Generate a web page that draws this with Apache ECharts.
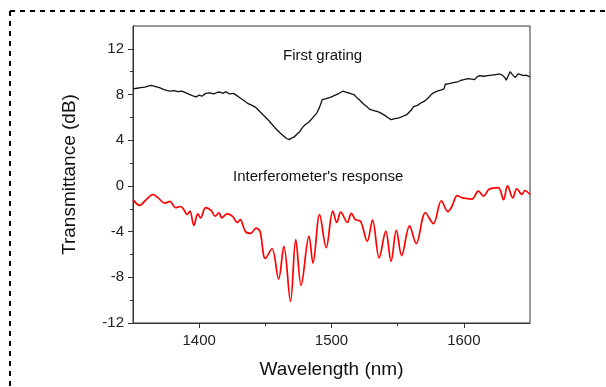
<!DOCTYPE html>
<html>
<head>
<meta charset="UTF-8">
<title>Transmittance</title>
<script src="https://cdn.jsdelivr.net/npm/echarts@6/dist/echarts.min.js"></script>
<style>
  html, body { margin: 0; padding: 0; background: #fff; }
  #chart { width: 606px; height: 387px; }
</style>
</head>
<body>
<div id="chart"></div>
<script type="text/javascript">
// first grating (black)
var gratingWl = [1350,1353,1356,1359,1362,1364,1367,1370,1373,1376,1378,1381,1384,1387,1390,1393,1396,1398,1400,1402,
  1405,1408,1411,1414,1416,1418,1420,1423,1426,1428,1431,1434,1437,1440,1443,1446,1449,1452,1455,1458,
  1461,1464,1466,1468,1470,1472,1474,1476,1478,1480,1483,1486,1489,1491,1493,1496,1499,1502,1505,1507,
  1509,1511,1513,1515,1517,1519,1521,1524,1527,1529,1532,1535,1537,1540,1543,1545,1548,1551,1554,1557,
  1560,1562,1565,1568,1570,1573,1575,1577,1580,1583,1585,1586,1589,1592,1595,1598,1600,1603,1606,1608,
  1610,1612,1615,1618,1621,1624,1627,1629,1631,1632,1634,1635,1637,1639,1641,1643,1645,1647,1650];
var gratingDb = [8.5,8.55,8.6,8.65,8.75,8.8,8.7,8.6,8.45,8.35,8.3,8.35,8.25,8.3,8.15,8.0,7.85,7.8,7.95,7.85,
  8.1,8.15,8.05,8.2,8.2,8.1,8.25,8.05,8.1,7.95,7.7,7.45,7.2,7.05,6.85,6.5,6.15,5.8,5.4,5.0,
  4.65,4.35,4.15,4.05,4.2,4.3,4.55,4.75,5.1,5.35,5.6,6.0,6.4,6.9,7.55,7.65,7.75,7.9,8.05,8.2,
  8.3,8.2,8.15,8.05,8.0,7.75,7.55,7.2,6.9,6.7,6.6,6.5,6.4,6.2,5.95,5.8,5.9,5.95,6.1,6.25,
  6.6,6.95,7.05,7.3,7.4,7.7,7.95,8.15,8.3,8.4,8.5,8.9,8.95,9.05,9.1,9.25,9.3,9.4,9.35,9.3,
  9.55,9.65,9.6,9.65,9.7,9.75,9.8,9.7,9.5,9.25,9.75,10.0,9.7,9.5,9.8,9.75,9.65,9.7,9.55];

// interferometer's response (red)
var interfWl = [1350,1355,1360,1365,1369,1374,1378,1382,1386,1388,1391,1393,1396,1399,1401,1405,1409,1412,1415,1417,
  1421,1425,1429,1431,1435,1439,1443,1446,1450,1455,1460,1464,1469,1473,1477,1483,1486,1491,1496,1501,
  1504,1507,1512,1515,1518,1522,1527,1531,1536,1541,1545,1549,1553,1559,1564,1571,1577,1583,1588,1591,
  1595,1599,1606,1611,1615,1619,1626,1630,1633,1637,1640,1644,1646,1650];
var interfDb = [-1.2,-1.7,-1.2,-0.75,-1.05,-1.5,-1.35,-1.9,-1.8,-2.0,-2.5,-2.2,-3.45,-2.45,-2.8,-1.9,-2.15,-2.65,-2.35,-2.8,
  -2.45,-2.65,-3.2,-2.95,-4.0,-4.15,-3.7,-4.0,-6.35,-5.5,-8.15,-5.3,-10.1,-4.7,-8.7,-4.4,-6.75,-2.5,-5.4,-2.2,
  -3.2,-2.3,-3.2,-2.4,-2.95,-3.1,-4.85,-3.0,-6.3,-3.95,-6.6,-3.9,-6.1,-3.5,-5.05,-2.35,-3.3,-1.3,-2.25,-1.8,
  -0.85,-1.05,-1.15,-0.45,-0.9,-0.3,-0.15,-1.2,0.0,-1.05,-0.25,-0.75,-0.4,-0.75];

var xMajor = [1400, 1500, 1600];
var xMinor = [1450, 1550];
var yMajor = [-12, -8, -4, 0, 4, 8, 12];
var yMinor = [-10, -6, -2, 2, 6, 10];

function pairs(xs, ys) {
    var out = [];
    for (var i = 0; i < xs.length; i++) out.push([xs[i], ys[i]]);
    return out;
}

var axisColor = '#333';
var font = 'Liberation Sans, Arial, sans-serif';

var myChart = echarts.init(document.getElementById('chart'));
var option = {
    backgroundColor: '#fff',
    animation: false,
    textStyle: { fontFamily: font },
    grid: [
        { left: 133, right: 76, top: 26, bottom: 64,
          show: true, borderColor: axisColor, borderWidth: 1, backgroundColor: 'transparent' },
        // second grid only carries the minor ticks
        { left: 133, right: 76, top: 26, bottom: 64 }
    ],
    xAxis: [{
        type: 'value', gridIndex: 0, min: 1350, max: 1650, interval: 50,
        name: 'Wavelength (nm)', nameLocation: 'middle', nameGap: 37,
        nameTextStyle: { fontSize: 19, color: '#111' },
        axisLine: { onZero: false, lineStyle: { color: axisColor, width: 1 } },
        axisTick: { show: true, length: 5, customValues: xMajor, lineStyle: { color: axisColor } },
        axisLabel: { customValues: xMajor, fontSize: 15, color: '#222', margin: 10,
                     formatter: function (v) { return String(v); } },
        splitLine: { show: false }
    }, {
        type: 'value', gridIndex: 1, min: 1350, max: 1650, interval: 50,
        axisLine: { show: false, onZero: false },
        axisTick: { show: true, length: 3, customValues: xMinor, lineStyle: { color: axisColor } },
        axisLabel: { show: false },
        splitLine: { show: false }
    }],
    yAxis: [{
        type: 'value', gridIndex: 0, min: -12, max: 14, interval: 4,
        name: 'Transmittance (dB)', nameLocation: 'middle', nameGap: 54,
        nameTextStyle: { fontSize: 19, color: '#111' },
        axisLine: { show: true, onZero: false, lineStyle: { color: axisColor, width: 1 } },
        axisTick: { show: true, length: 5, customValues: yMajor, lineStyle: { color: axisColor } },
        axisLabel: { customValues: yMajor, fontSize: 15, color: '#222', margin: 9 },
        splitLine: { show: false }
    }, {
        type: 'value', gridIndex: 1, min: -12, max: 14, interval: 2,
        axisLine: { show: false, onZero: false },
        axisTick: { show: true, length: 3, customValues: yMinor, lineStyle: { color: axisColor } },
        axisLabel: { show: false },
        splitLine: { show: false }
    }],
    graphic: [
        { type: 'line', silent: true, shape: { x1: 10, y1: 11, x2: 606, y2: 11 },
          style: { stroke: '#000', lineWidth: 2, lineDash: [5, 5] } },
        { type: 'line', silent: true, shape: { x1: 10, y1: 11, x2: 10, y2: 387 },
          style: { stroke: '#000', lineWidth: 2, lineDash: [5, 5] } },
        { type: 'text', left: 283, top: 48, silent: true,
          style: { text: 'First grating', fontSize: 15, fill: '#111', fontFamily: font } },
        { type: 'text', left: 233, top: 169, silent: true,
          style: { text: "Interferometer's response", fontSize: 15, fill: '#111', fontFamily: font } }
    ],
    series: [{
        name: 'First grating', type: 'line', xAxisIndex: 0, yAxisIndex: 0,
        showSymbol: false, symbol: 'none',
        lineStyle: { color: '#111', width: 1.3 },
        data: pairs(gratingWl, gratingDb)
    }, {
        name: "Interferometer's response", type: 'line', xAxisIndex: 0, yAxisIndex: 0,
        showSymbol: false, symbol: 'none', smooth: 0.35,
        lineStyle: { color: '#ff0000', width: 1.7 },
        data: pairs(interfWl, interfDb)
    }]
};
myChart.setOption(option);
</script>
</body>
</html>
